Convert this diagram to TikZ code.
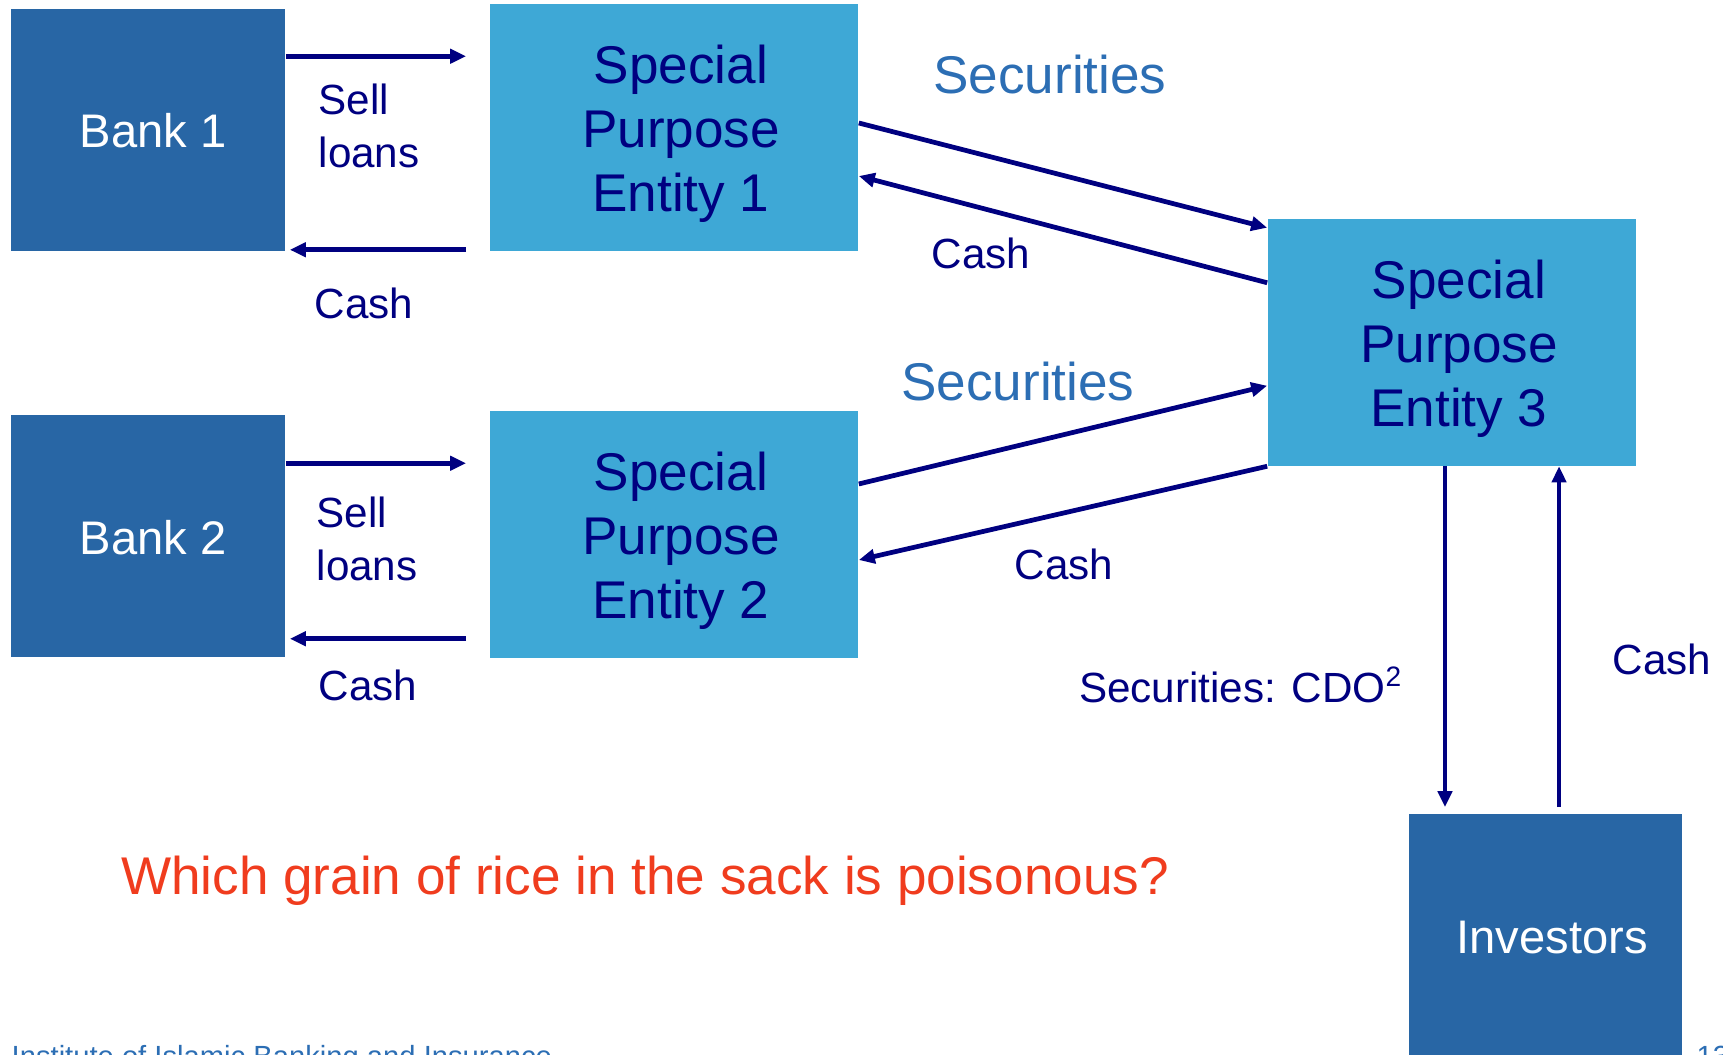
\documentclass[tikz,border=0pt]{standalone}
\usepackage{fontspec}
\setmainfont{Liberation Sans}
\usepackage{xcolor}
\usepackage{tikz}
\usetikzlibrary{arrows.meta, positioning, calc}
\definecolor{mybank}{RGB}{40,102,165}
\definecolor{myspe}{RGB}{62,168,214}
\definecolor{mynavy}{RGB}{0,0,128}
\definecolor{mysteel}{RGB}{44,110,180}
\definecolor{myred}{RGB}{240,60,30}
\tikzset{
  bankbox/.style={rectangle, fill=mybank,
    minimum width=2.74cm, minimum height=2.42cm, inner sep=0pt},
  spebox/.style={rectangle, fill=myspe,
    minimum width=3.68cm, minimum height=2.46cm, inner sep=0pt},
  banktext/.style={text=white, inner sep=0pt,
    font=\fontsize{13.4}{16}\selectfont},
  spetext/.style={text=mynavy, align=center, inner sep=0pt,
    font=\fontsize{15.1}{18.2}\selectfont},
  lbl/.style={text=mynavy, inner sep=0pt, align=left,
    font=\fontsize{12}{15.1}\selectfont},
  seclbl/.style={text=mysteel, inner sep=0pt,
    font=\fontsize{15.1}{18}\selectfont},
  arrow/.style={-{Triangle[length=0.16cm, width=0.14cm]}, line width=1.35pt, color=mynavy}
}
\begin{document}
\begin{tikzpicture}[x=0.01cm, y=-0.01cm]
  \useasboundingbox (0,0) rectangle (1723,1055);
  % boxes
  \node[bankbox] (bank1) at (148,130) {};
  \node[banktext] (bank1t) at (153,131) {Bank 1};
  \node[spebox] (spe1) at (674,127.5) {};
  \node[spetext] (spe1t) at (681,134) {Special\\Purpose\\Entity 1};
  \node[bankbox] (bank2) at (148,536) {};
  \node[banktext] (bank2t) at (153,538) {Bank 2};
  \node[spebox] (spe2) at (674,534.5) {};
  \node[spetext] (spe2t) at (681,541) {Special\\Purpose\\Entity 2};
  \node[spebox] (spe3) at (1452,342.5) {};
  \node[spetext] (spe3t) at (1459,349) {Special\\Purpose\\Entity 3};
  \node[bankbox, minimum width=2.73cm, minimum height=2.66cm] (inv) at (1545.5,947) {};
  \node[banktext] (invt) at (1552,938) {Investors};
  % banks to entities 1 and 2
  \coordinate (s1) at ([yshift=-0.48cm]bank1.north east);
  \coordinate (c1) at ([yshift=0.02cm]bank1.south east);
  \draw[arrow, shorten >=0.23cm] (s1) -- (s1 -| spe1.west);
  \draw[arrow, shorten <=0.23cm, shorten >=0.04cm] (c1 -| spe1.west) -- (c1);
  \coordinate (s2) at ([yshift=-0.49cm]bank2.north east);
  \coordinate (c2) at ([yshift=0.19cm]bank2.south east);
  \draw[arrow, shorten >=0.23cm] (s2) -- (s2 -| spe2.west);
  \draw[arrow, shorten <=0.23cm, shorten >=0.04cm] (c2 -| spe2.west) -- (c2);
  % entities 1 and 2 to entity 3
  \draw[arrow] ([yshift=0.045cm]spe1.east) -- ([yshift=-0.09cm]spe3.north west);
  \draw[arrow] ([yshift=-0.64cm]spe3.north west) -- ([yshift=-0.485cm]spe1.east);
  \draw[arrow] ([yshift=0.505cm]spe2.east) -- ([yshift=0.805cm]spe3.south west);
  \draw[arrow] (spe3.south west) -- ([yshift=-0.255cm]spe2.east);
  % entity 3 and investors
  \draw[arrow, shorten >=0.06cm] ([xshift=-0.07cm]spe3.south) -- ([xshift=-0.07cm]spe3.south |- inv.north);
  \draw[arrow, shorten <=0.06cm] ([xshift=1.07cm]spe3.south |- inv.north) -- ([xshift=1.07cm]spe3.south);
  % labels
  \node[lbl, anchor=west] (sell1) at (318,126) {Sell\\loans};
  \node[lbl] (cash1) at (364,303) {Cash};
  \node[lbl, anchor=west] (sell2) at (316,539) {Sell\\loans};
  \node[lbl] (cash2) at (368,685) {Cash};
  \node[seclbl] (sec1) at (1050,75) {Securities};
  \node[lbl] (cash3) at (981,253) {Cash};
  \node[seclbl] (sec2) at (1018,382) {Securities};
  \node[lbl] (cash4) at (1064,564) {Cash};
  \node[lbl] (cdo) at (1241,685) {Securities: CDO\textsuperscript{2}};
  \node[lbl] (cash5) at (1662,659) {Cash};
  \node[text=myred, inner sep=0pt, font=\fontsize{15.1}{18}\selectfont] (rice) at (645,881)
    {Which grain of rice in the sack is poisonous?};
  % footer
  \node[text=mysteel, inner sep=0pt, anchor=base west, font=\fontsize{8.3}{10}\selectfont] (foot) at (11,1067)
    {Institute of Islamic Banking and Insurance};
  \node[text=mysteel, inner sep=0pt, anchor=base west, font=\fontsize{8.3}{10}\selectfont] (pg) at (1696,1067) {13};
\end{tikzpicture}
\end{document}
